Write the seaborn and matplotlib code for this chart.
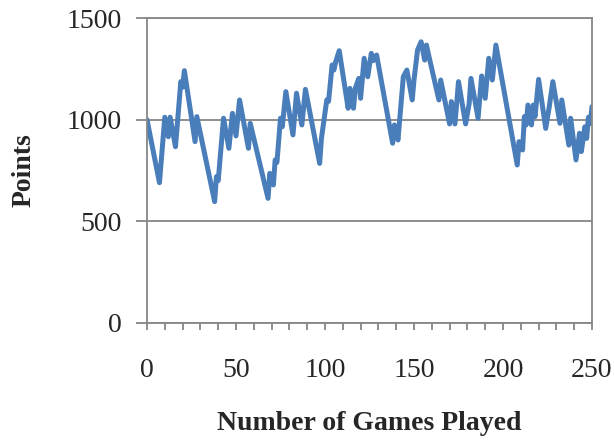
import numpy as np
import pandas as pd
import matplotlib
matplotlib.use("Agg")
import matplotlib.pyplot as plt
import seaborn as sns

# --- Data (game number, points) ---
games = [0, 7, 10, 12, 13, 16, 19, 20, 21, 27, 28, 38, 39, 40, 43, 46, 48, 50, 52, 57,
         58, 68, 69, 71, 72, 73, 75, 76, 78, 82, 84, 87, 89, 97, 98, 101, 102, 104, 105, 106,
         108, 113, 114, 116, 117, 119, 120, 122, 124, 126, 127, 129, 138, 139, 141, 144, 146, 149, 150, 152,
         154, 156, 157, 158, 164, 165, 170, 171, 173, 175, 179, 181, 182, 186, 188, 190, 192, 194, 196, 208,
         209, 211, 212, 213, 214, 216, 217, 218, 220, 224, 226, 228, 232, 233, 237, 238, 241, 243, 244, 246,
         247, 248, 249, 250]
points = [1000, 690, 1012, 916, 1012, 867, 1187, 1160, 1241, 892, 1015, 597, 720, 700, 1007, 859, 1031, 920, 1097, 859,
          982, 613, 736, 679, 802, 790, 1007, 965, 1138, 925, 1130, 974, 1149, 785, 908, 1097, 1090, 1269, 1244, 1285,
          1339, 1056, 1154, 1056, 1154, 1203, 1105, 1302, 1211, 1326, 1290, 1318, 884, 974, 900, 1211, 1244, 1097, 1195, 1343,
          1383, 1293, 1367, 1326, 1097, 1195, 979, 1089, 979, 1187, 979, 1080, 1203, 1007, 1215, 1105, 1302, 1195, 1367, 777,
          892, 851, 1015, 974, 1072, 974, 1072, 1015, 1198, 957, 1064, 1187, 982, 1097, 875, 1007, 802, 933, 843, 965,
          908, 1012, 982, 1064]

x_ticks = list(range(0, 251, 10))
x_labels = [str(t) if t % 50 == 0 else "" for t in x_ticks]
y_ticks = [0, 500, 1000, 1500]

df = pd.DataFrame({"game": games, "points": points})

sns.set_style("white")
plt.rcParams["font.family"] = ["Liberation Serif", "DejaVu Serif"]

GRAY = "#868686"

fig = plt.figure(figsize=(6.14, 4.41), dpi=100)
ax = fig.add_axes([147 / 614, 1 - 323 / 441, (592 - 147) / 614, (323 - 18) / 441])

sns.lineplot(data=df, x="game", y="points", color="#4A7EBB", linewidth=3.6,
             solid_joinstyle="round", solid_capstyle="round", ax=ax)

ax.set_xlim(0, 250)
ax.set_ylim(0, 1500)
ax.set_xticks(x_ticks)
ax.set_xticklabels(x_labels)
ax.set_yticks(y_ticks)

ax.grid(axis="y", color=GRAY, linewidth=1.3)
ax.set_axisbelow(True)
for side in ["left", "bottom", "right", "top"]:
    ax.spines[side].set_visible(True)
    ax.spines[side].set_color(GRAY)
    ax.spines[side].set_linewidth(1.3)

ax.tick_params(axis="x", direction="out", length=5, width=1.3, color=GRAY,
               labelsize=20, pad=20, bottom=True)
ax.tick_params(axis="y", direction="out", length=8, width=1.3, color=GRAY,
               labelsize=20, pad=10, left=True)

ax.set_xlabel("Number of Games Played", fontsize=20, fontweight="bold", labelpad=20)
ax.set_ylabel("Points", fontsize=20, fontweight="bold", labelpad=22)

fig.savefig("out.png", dpi=100)
